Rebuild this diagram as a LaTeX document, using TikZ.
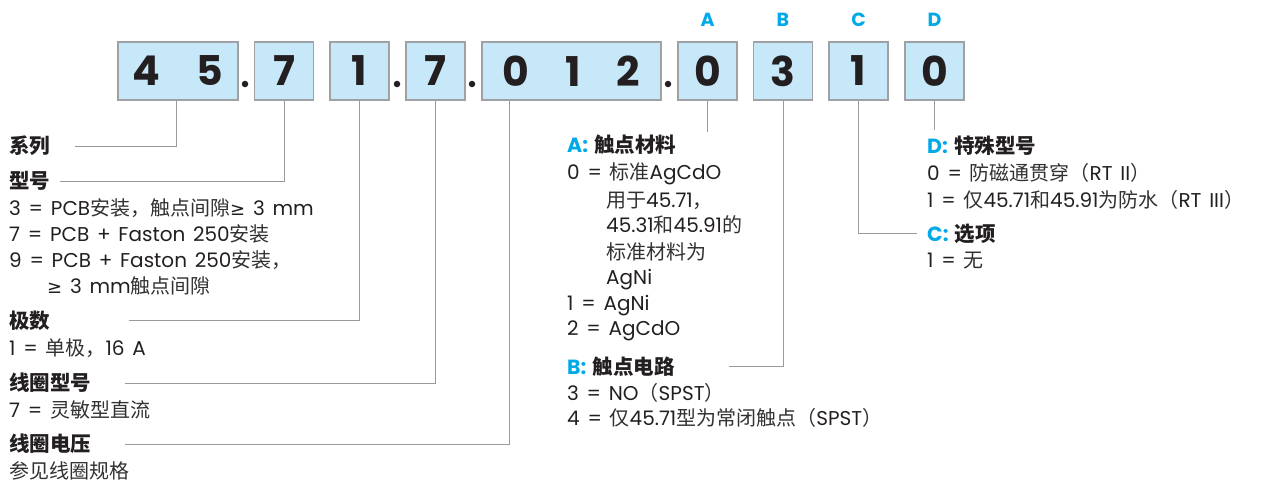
\documentclass[tikz,border=0pt]{standalone}
\usepackage{fontspec}
\setmainfont{Poppins}[WordSpace=1.45]
\newfontfamily\cjk{Noto Sans CJK SC}
\newfontfamily\sym{DejaVu Sans}
\definecolor{txt}{HTML}{231F20}
\definecolor{cjkc}{HTML}{333031}
\definecolor{cyanc}{HTML}{00A9E8}
\definecolor{boxfill}{HTML}{C7E8F8}
\definecolor{boxline}{HTML}{9FA1A4}
\definecolor{connc}{HTML}{9A9A9A}
\newcommand\zh[1]{{\cjk\fontsize{20}{22}\selectfont\color{cjkc}#1}}
\newcommand\zhb[1]{{\cjk\bfseries #1}}
\newcommand\gesym{{\sym\fontsize{18}{20}\selectfont ≥}}
\begin{document}
\begin{tikzpicture}[x=1pt,y=-1pt,
  box/.style={draw=boxline, line width=1.3pt, fill=boxfill, minimum width=59pt, minimum height=58pt, inner sep=0pt, font=\fontsize{41}{41}\selectfont\bfseries, text=txt},
  dotn/.style={circle, fill=txt, inner sep=0pt, minimum size=6.5pt},
  conn/.style={draw=connc, line width=1pt},
  body/.style={anchor=base west, inner sep=0pt, font=\fontsize{20}{22}\selectfont, text=txt},
  head/.style={anchor=base west, inner sep=0pt, font=\fontsize{20.5}{22}\selectfont\bfseries, text=txt},
  letter/.style={font=\fontsize{19}{20}\selectfont\bfseries, text=cyanc, inner sep=0pt}
]
\useasboundingbox (0,0) rectangle (1270,485);
% boxes
\node[box, minimum width=120pt] (b1) at (178,71) {4\hspace{36pt}5};
\node[box] (b2) at (284,71) {7};
\node[box] (b3) at (359.5,71) {1};
\node[box] (b4) at (435.5,71) {7};
\node[box, minimum width=179pt] (b5) at (571.5,71) {0\hspace{36pt}1\hspace{36pt}2};
\node[box] (b6) at (707.5,71) {0};
\node[box] (b7) at (783,71) {3};
\node[box] (b8) at (858.5,71) {1};
\node[box] (b9) at (934.5,71) {0};
% dots
\node[dotn] (d1) at (245,84) {};
\node[dotn] (d2) at (397,84) {};
\node[dotn] (d3) at (472,84) {};
\node[dotn] (d4) at (668,84) {};
% letters
\node[letter] (la) at (707.5,20) {A};
\node[letter] (lb) at (783,20) {B};
\node[letter] (lc) at (858.5,20) {C};
\node[letter] (ld) at (934.5,20) {D};
% left column
\node[head] (hser) at (9,153.5) {\zhb{系列}};
\node[head] (htyp) at (9,188.5) {\zhb{型号}};
\node[body] (t3) at (9,215) {3 = PCB\zh{安装，触点间隙}\gesym\ 3 mm};
\node[body] (t7) at (9,241) {7 = PCB + Faston 250\zh{安装}};
\node[body] (t9) at (9,267) {9 = PCB + Faston 250\zh{安装，}};
\node[body] (t9b) at (47,293.5) {\gesym\ 3 mm\zh{触点间隙}};
\node[head] (hpol) at (9,328.5) {\zhb{极数}};
\node[body] (p1) at (9,355.5) {1 = \zh{单极，}16 A};
\node[head] (hcoil) at (9,390.5) {\zhb{线圈型号}};
\node[body] (c7) at (9,417.5) {7 = \zh{灵敏型直流}};
\node[head] (hvolt) at (9,451.5) {\zhb{线圈电压}};
\node[body] (vref) at (9,478.5) {\zh{参见线圈规格}};
% middle column
\node[head] (ha) at (567,152.5) {\textcolor{cyanc}{A:} \zhb{触点材料}};
\node[body] (a0) at (567,179.5) {0 = \zh{标准}AgCdO};
\node[body] (a0b) at (606,207.5) {\zh{用于}45.71\zh{，}};
\node[body] (a0c) at (606,232.5) {45.31\zh{和}45.91\zh{的}};
\node[body] (a0d) at (606,259.5) {\zh{标准材料为}};
\node[body] (a0e) at (606,284.5) {AgNi};
\node[body] (a1) at (567,310.5) {1 = AgNi};
\node[body] (a2) at (567,335.5) {2 = AgCdO};
\node[head] (hb) at (567,374.5) {\textcolor{cyanc}{B:} \zhb{触点电路}};
\node[body] (b3t) at (567,400.5) {3 = NO\zh{（}SPST\zh{）}};
\node[body] (b4t) at (567,425.5) {4 = \zh{仅}45.71\zh{型为常闭触点（}SPST\zh{）}};
% right column
\node[head] (hd) at (927,153.5) {\textcolor{cyanc}{D:} \zhb{特殊型号}};
\node[body] (d0) at (927,180.5) {0 = \zh{防磁通贯穿（}RT II\zh{）}};
\node[body] (d1t) at (927,207.5) {1 = \zh{仅}45.71\zh{和}45.91\zh{为防水（}RT III\zh{）}};
\node[head] (hc) at (927,241.5) {\textcolor{cyanc}{C:} \zhb{选项}};
\node[body] (c1t) at (927,267.5) {1 = \zh{无}};
% connectors
\coordinate (e1) at (75,146);
\coordinate (e2) at (60,181);
\coordinate (e3) at (129,320);
\coordinate (e4) at (125,383);
\coordinate (e5) at (125,444);
\coordinate (e6) at (708,132);
\coordinate (e7) at (729,366);
\coordinate (e8) at (917,233);
\coordinate (e9) at (934,130);
\draw[conn] ([xshift=-2pt]b1.south) |- (e1);
\draw[conn] (b2.south) |- (e2);
\draw[conn] (b3.south) |- (e3);
\draw[conn] (b4.south) |- (e4);
\draw[conn] ([xshift=-62.5pt]b5.south) |- (e5);
\draw[conn] (b6.south) -- (b6.south |- e6);
\draw[conn] (b7.south) |- (e7);
\draw[conn] (b8.south) |- (e8);
\draw[conn] (b9.south) -- (b9.south |- e9);
\end{tikzpicture}
\end{document}
